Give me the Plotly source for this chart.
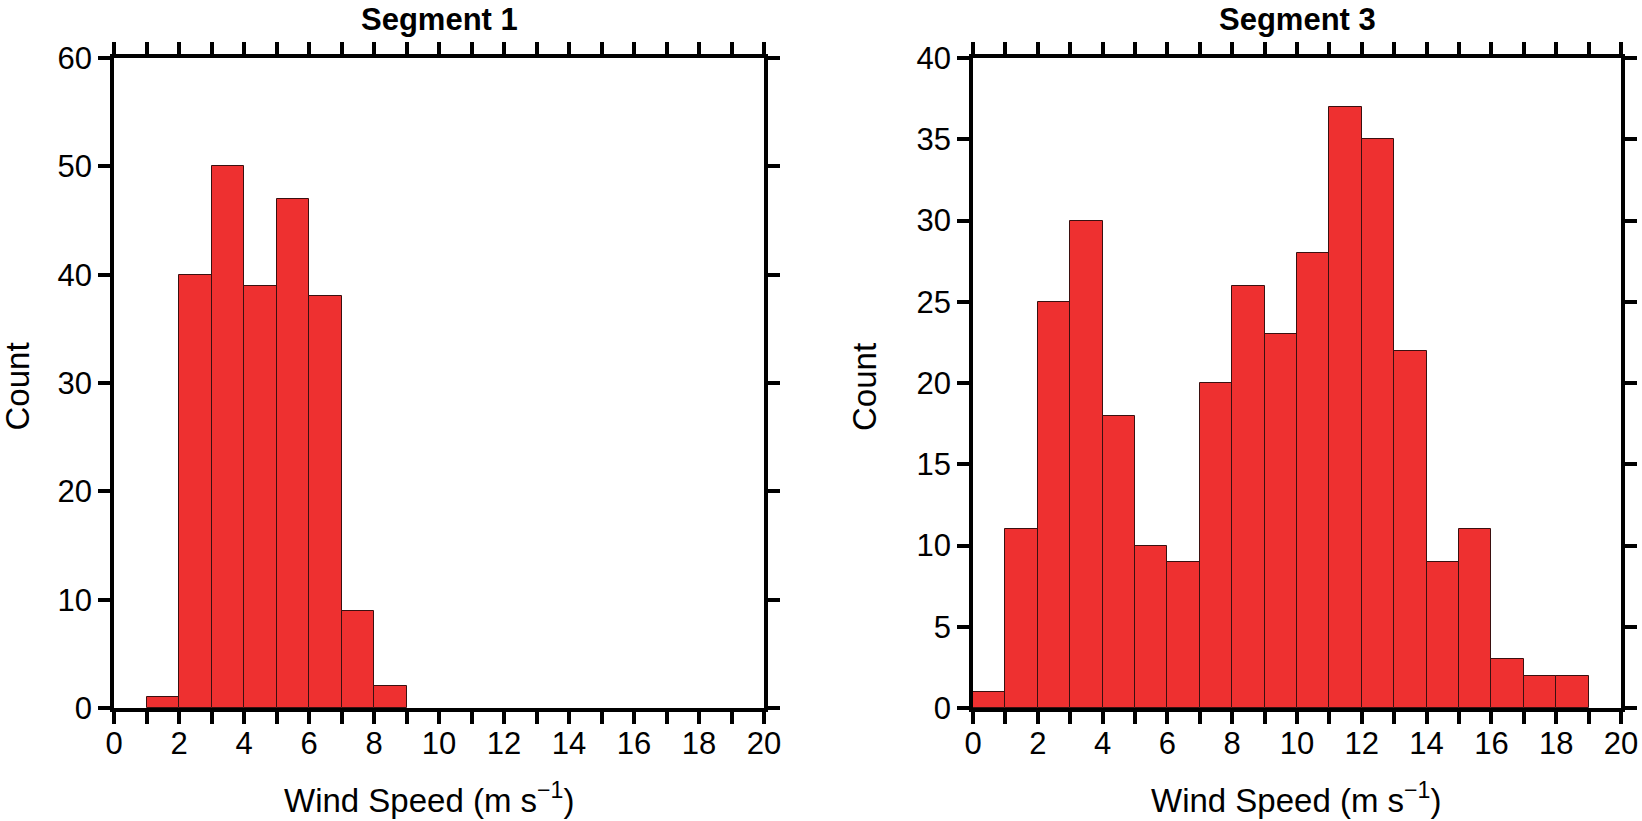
import plotly.graph_objects as go
from plotly.subplots import make_subplots

# histogram bins (left edge, 1 m/s wide)
seg1_bins = [1, 2, 3, 4, 5, 6, 7, 8]
seg1_counts = [1, 40, 50, 39, 47, 38, 9, 2]

seg3_bins = [0, 1, 2, 3, 4, 5, 6, 7, 8, 9, 10, 11, 12, 13, 14, 15, 16, 17, 18]
seg3_counts = [1, 11, 25, 30, 18, 10, 9, 20, 26, 23, 28, 37, 35, 22, 9, 11, 3, 2, 2]

titles = ['Segment 1', 'Segment 3']
x_title = 'Wind Speed (m s<sup>\u22121</sup>)'

W, H = 1642, 821
font = dict(family='Liberation Sans, Arial, sans-serif', size=33, color='black')
title_font = dict(family='Liberation Sans, Arial, sans-serif', size=31, color='black')
tick_font = dict(family='Liberation Sans, Arial, sans-serif', size=31, color='black')
bar_color = '#EE3030'

fig = make_subplots(rows=1, cols=2)

for col, (bins, counts) in enumerate([(seg1_bins, seg1_counts), (seg3_bins, seg3_counts)], start=1):
    fig.add_trace(go.Bar(
        x=[b + 0.5 for b in bins],
        y=counts,
        width=1,
        marker=dict(color=bar_color, line=dict(color='#3a1010', width=1)),
        showlegend=False,
    ), row=1, col=col)

axis_style = dict(
    showline=True, linecolor='black', linewidth=3.5,
    ticks='outside', ticklen=12, tickwidth=3.5, tickcolor='black',
    mirror='ticks', showgrid=False, zeroline=False,
    tickfont=tick_font, automargin=False,
)

fig.update_xaxes(range=[0, 20], dtick=2, tick0=0, ticklabelstandoff=-7,
                 minor=dict(dtick=1, ticks='outside', ticklen=12, tickwidth=3.5, tickcolor='black'),
                 **axis_style)
fig.update_xaxes(domain=[114 / W, 764 / W], row=1, col=1)
fig.update_xaxes(domain=[973 / W, 1621 / W], row=1, col=2)

fig.update_yaxes(domain=[1 - 708 / H, 1 - 58 / H], **axis_style)
fig.update_yaxes(range=[0, 60], dtick=10, row=1, col=1)
fig.update_yaxes(range=[0, 40], dtick=5, row=1, col=2)

annotations = []
for cx, xt, t in [(439, 428.5, titles[0]), (1297, 1296, titles[1])]:
    annotations.append(dict(x=cx / W, y=1, xref='paper', yref='paper',
                            text='<b>' + t + '</b>', showarrow=False,
                            font=title_font, xanchor='center', yanchor='top'))
    annotations.append(dict(x=xt / W, y=0, xref='paper', yref='paper',
                            text=x_title, showarrow=False,
                            font=font, xanchor='center', yanchor='bottom'))

annotations.append(dict(x=-3 / W, y=1 - 387 / H, xref='paper', yref='paper',
                        text='Count', textangle=-90, showarrow=False,
                        font=font, xanchor='left', yanchor='middle'))
annotations.append(dict(x=865 / W, y=1 - 387 / H, xref='paper', yref='paper',
                        text='Count', textangle=-90, showarrow=False,
                        font=font, xanchor='center', yanchor='middle'))

fig.update_layout(
    width=W, height=H,
    margin=dict(l=0, r=0, t=0, b=0, pad=0),
    plot_bgcolor='white', paper_bgcolor='white',
    font=font, bargap=0,
    annotations=annotations,
)

# drop the default 8px page margin so the figure fills the window
fig.write_html('out.html', config={'displayModeBar': False},
               post_script="document.body.style.margin = '0';")
